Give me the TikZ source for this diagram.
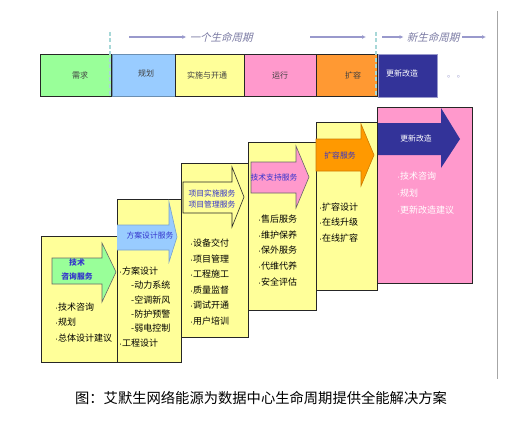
\documentclass[tikz,border=0pt]{standalone}
\usepackage{fontspec}
\setmainfont{Noto Sans CJK SC}
\newfontfamily\cjkslant[FakeSlant=0.25]{Noto Sans CJK SC}
\usetikzlibrary{arrows.meta, positioning}

\definecolor{stagegreen}{HTML}{99FF99}
\definecolor{stageblue}{HTML}{99CCFF}
\definecolor{stageyellow}{HTML}{FFFF99}
\definecolor{stagepink}{HTML}{FF99CC}
\definecolor{stageorange}{HTML}{FF9933}
\definecolor{arroworange}{HTML}{FF9900}
\definecolor{stagenavy}{HTML}{333399}
\definecolor{labelblue}{HTML}{3333CC}
\definecolor{lifelilac}{HTML}{9999CC}
\definecolor{cycleteal}{HTML}{A8D8D8}

\newcommand\itemdot{\hbox to 4pt{\fontsize{5}{5}\selectfont•\hss}}

\tikzset{
  stagebox/.style={draw=black!85, line width=0.8pt},
  stagetext/.style={inner sep=0pt, text=black!75, font=\fontsize{8}{9}\selectfont},
  servicebox/.style={draw=black!85, line width=0.8pt, fill=stageyellow},
  servicearrow/.style={draw=black!60, line width=0.6pt},
  arrowtext/.style={inner sep=0pt, text=labelblue, align=center,
                    font=\fontsize{7.8}{10.5}\selectfont},
  item/.style={anchor=west, inner sep=0pt, font=\fontsize{9}{10}\selectfont},
  lifearrow/.style={-{Latex[length=4pt, width=4pt]}, lifelilac, line width=1.2pt},
  lifetext/.style={inner sep=3pt, text=lifelilac!80!black, font=\cjkslant\fontsize{10.5}{12}\selectfont},
  cycleline/.style={cycleteal, line width=1.8pt, dash pattern=on 4pt off 2.5pt}
}

\begin{document}
\begin{tikzpicture}[x=1pt, y=-1pt]
  \useasboundingbox (0,0) rectangle (506,428);

  % Right frame line
  \draw[gray!70, line width=1pt] (497,11) -- (497,379);

  % Lifecycle strip
  \fill[stagegreen] (40,54) rectangle (111,96);
  \draw[stagebox] (40,54) rectangle (111,96);
  \fill[stageblue] (112,54) rectangle (175,96);
  \draw[stagebox, draw=stageblue!70!black] (112,54) rectangle (175,96);
  \fill[stageyellow] (175,54) rectangle (244,96);
  \draw[stagebox] (175,54) rectangle (244,96);
  \fill[stagepink] (244,54) rectangle (316,96);
  \draw[stagebox] (244,54) rectangle (316,96);
  \fill[stageorange] (316,54) rectangle (377,96);
  \draw[stagebox] (316,54) rectangle (377,96);
  \fill[stagenavy] (378,54) rectangle (437,97);
  \draw[stagebox, draw=lifelilac] (378,54) rectangle (437,97);

  \node[stagetext] (need) at (80,75) {需求};
  \node[stagetext] (plan) at (146,73) {规划};
  \node[stagetext] (build) at (207,75) {实施与开通};
  \node[stagetext] (run) at (280,75) {运行};
  \node[stagetext] (grow) at (353,75) {扩容};
  \node[stagetext, text=white] (renew) at (402,73) {更新改造};
  \node[stagetext, text=lifelilac] (dots) at (456,77) {。 。};

  % Cycle boundaries
  \draw[cycleline] (110,32) -- (110,97);
  \draw[cycleline] (376,32) -- (376,97);

  % Lifecycle arrows
  \node[lifetext] (life1) at (221,37) {一个生命周期};
  \node[lifetext] (life2) at (433,37) {新生命周期};
  \coordinate (l1s) at (129,37);
  \coordinate (l2s) at (310,37);
  \coordinate (l2e) at (366,37);
  \coordinate (l3s) at (382,37);
  \coordinate (l4e) at (486,37);
  \draw[lifearrow] (l1s) -- (life1);
  \draw[lifearrow] (l2s) -- (l2e);
  \draw[lifearrow] (l3s) -- (life2);
  \draw[lifearrow] (life2) -- (l4e);

  % Stage 1: consulting
  \draw[servicebox] (41,236) rectangle (125,362);
  \draw[servicearrow, fill=stagegreen] (52,258) -- (102,258) -- (102,243)
    -- (116,272) -- (102,302) -- (102,284) -- (52,284) -- cycle;
  \node[arrowtext, font=\bfseries\fontsize{7.8}{14}\selectfont] (consult) at (77,270) {技术\\咨询服务};
  \foreach \t [count=\i] in {技术咨询, 规划, 总体设计建议}
    \node[item] (a\i) at (54,{307+15.5*(\i-1)}) {\itemdot\t};

  % Stage 2: design
  \draw[servicebox] (117,199) rectangle (181,362);
  \fill[stageblue] (117,225) -- (169,225) -- (169,202) -- (177,237)
    -- (169,262) -- (169,250) -- (117,250) -- cycle;
  \draw[stageblue!80!black, line width=0.6pt] (117,225) -- (169,225) -- (169,202) -- (177,237)
    -- (169,262) -- (169,250) -- (117,250);
  \node[arrowtext] (design) at (150,236) {方案设计服务};
  \node[item] (b1) at (118,271) {\itemdot 方案设计};
  \foreach \t [count=\i] in {动力系统, 空调新风, 防护预警, 弱电控制}
    \node[item] (b\i s) at (131,{285.5+14.3*(\i-1)}) {-\t};
  \node[item] (b6) at (118,343) {\itemdot 工程设计};

  % Stage 3: implementation
  \draw[servicebox] (181,163) rectangle (248,337);
  \draw[servicearrow, draw=black!85, fill=stageyellow] (183,182) -- (232,182) -- (232,167)
    -- (244,197) -- (232,227) -- (232,213) -- (183,213) -- cycle;
  \node[arrowtext] (project) at (212,199) {项目实施服务\\项目管理服务};
  \foreach \t [count=\i] in {设备交付, 项目管理, 工程施工, 质量监督, 调试开通, 用户培训}
    \node[item] (c\i) at (189,{243+15.6*(\i-1)}) {\itemdot\t};

  % Stage 4: operation
  \draw[servicebox] (248,142) rectangle (316,310);
  \draw[servicearrow, fill=stagepink] (251,162) -- (296,162) -- (296,146)
    -- (309,177) -- (296,208) -- (296,193) -- (251,193) -- cycle;
  \node[arrowtext] (support) at (274,178) {技术支持服务};
  \foreach \t [count=\i] in {售后服务, 维护保养, 保外服务, 代维代养, 安全评估}
    \node[item] (d\i) at (257,{219+15.75*(\i-1)}) {\itemdot\t};

  % Stage 5: expansion
  \draw[servicebox] (316,122) rectangle (377,290);
  \draw[servicearrow, draw=arroworange!80!black, fill=arroworange] (316,139) -- (361,139) -- (361,124)
    -- (374,155) -- (361,186) -- (361,171) -- (316,171) -- cycle;
  \node[arrowtext] (expand) at (340,156) {扩容服务};
  \foreach \t [count=\i] in {扩容设计, 在线升级, 在线扩容}
    \node[item] (e\i) at (318,{207+15.5*(\i-1)}) {\itemdot\t};

  % Stage 6: renewal
  \draw[servicebox, fill=stagepink] (377,107) rectangle (472,283);
  \fill[stagenavy] (378,123) -- (441,123) -- (441,108)
    -- (460,139) -- (441,168) -- (441,155) -- (378,155) -- cycle;
  \node[arrowtext, text=white] (renewal) at (416,139) {更新改造};
  \foreach \t [count=\i] in {技术咨询, 规划, 更新改造建议}
    \node[item, text=white] (f\i) at (396,{176+17*(\i-1)}) {\itemdot\t};

  % Caption
  \node[inner sep=0pt, font=\fontsize{14.3}{16}\selectfont] (caption) at (261,398)
    {图：艾默生网络能源为数据中心生命周期提供全能解决方案};
\end{tikzpicture}
\end{document}
